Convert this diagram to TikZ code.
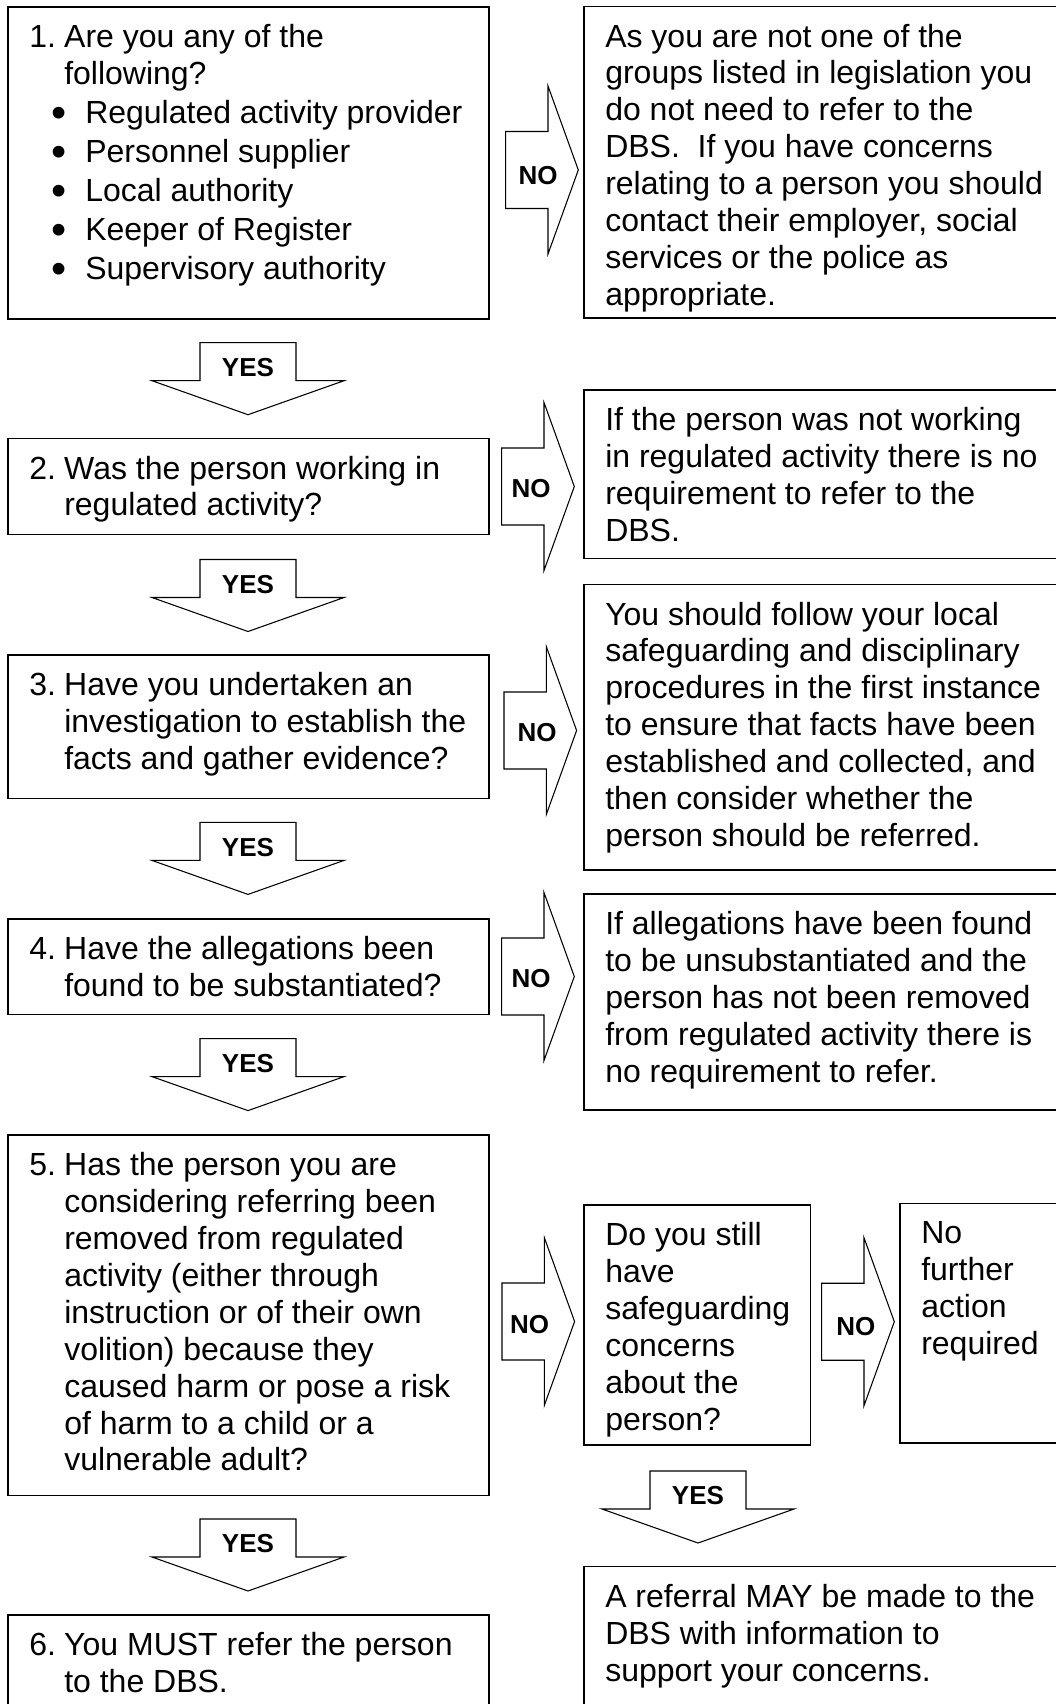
\documentclass[tikz,border=0pt]{standalone}
\usepackage{fontspec}
\setmainfont{Liberation Sans}
\usetikzlibrary{calc,fit}
\def\noarrow(#1,#2)(#3,#4)#5{\draw[blockarrow] (#1,#2-38.5) -- (#1+42.3,#2-38.5) -- (#1+42.3,#2-84) -- (#1+72.6,#2) -- (#1+42.3,#2+84) -- (#1+42.3,#2+38.5) -- (#1,#2+38.5) -- cycle;
	\node[arrowlabel] (#5) at (#3,#4) {NO};}
\def\yesarrow(#1,#2)#3{\draw[blockarrow] (#1-48,#2) -- (#1+48,#2) -- (#1+48,#2+38) -- (#1+96,#2+38) -- (#1,#2+72) -- (#1-96,#2+38) -- (#1-48,#2+38) -- cycle;
	\node[arrowlabel] (#3) at (#1,#2+25) {YES};}
\newcommand\flowtext[1]{\parbox[t]{420pt}{\raggedright #1}}
\newcommand\numline[1]{\makebox[26.25pt][l]{#1}}
\newcommand\indentline{\hspace*{26.25pt}}
\newcommand\bulletline[1]{\hspace*{17pt}\makebox[25pt][l]{\raisebox{-3pt}{\scalebox{1.35}{\textbullet}}}#1}
\tikzset{
	box/.style={draw, line width=1.1pt, inner sep=0pt, outer sep=0pt},
	txt/.style={inner sep=0pt, anchor=base west, font=\fontsize{24pt}{27.7pt}\selectfont},
	blockarrow/.style={draw, line width=0.8pt, fill=white, line join=miter},
	arrowlabel/.style={inner sep=0pt, font=\fontsize{19.5pt}{22pt}\selectfont\bfseries},
}
\begin{document}
\begin{tikzpicture}[x=0.75pt, y=-0.75pt]
			%%%%% FRAME %%%%%
			\useasboundingbox (0,0) rectangle (1056,1704);
			\clip (0,0) rectangle (1056,1704);
			\fill[white] (0,0) rectangle (1056,1704);
			
			%%%%% LEFT COLUMN %%%%%
			\node[box, fit={(8,7) (489,319)}] (q1) {};
			\node[txt] (q1text) at ($(q1.north west)+(21,40.5)$) {\flowtext{%
				\numline{1.}Are you any of the\\
				\indentline following?\\[1.9pt]
				\bulletline{Regulated activity provider}\\[1.5pt]
				\bulletline{Personnel supplier}\\[1.5pt]
				\bulletline{Local authority}\\[1.5pt]
				\bulletline{Keeper of Register}\\[1.5pt]
				\bulletline{Supervisory authority}}};
			
			\node[box, fit={(8,438.5) (489,534.5)}] (q2) {};
			\node[txt] (q2text) at ($(q2.north west)+(21,40.5)$) {\flowtext{%
				\numline{2.}Was the person working in\\
				\indentline regulated activity?}};
			
			\node[box, fit={(8,655) (489,798.5)}] (q3) {};
			\node[txt] (q3text) at ($(q3.north west)+(21,40.5)$) {\flowtext{%
				\numline{3.}Have you undertaken an\\
				\indentline investigation to establish the\\
				\indentline facts and gather evidence?}};
			
			\node[box, fit={(8,919) (489,1014.5)}] (q4) {};
			\node[txt] (q4text) at ($(q4.north west)+(21,40.5)$) {\flowtext{%
				\numline{4.}Have the allegations been\\
				\indentline found to be substantiated?}};
			
			\node[box, fit={(8,1135) (489,1495.5)}] (q5) {};
			\node[txt] (q5text) at ($(q5.north west)+(21,40.5)$) {\flowtext{%
				\numline{5.}Has the person you are\\
				\indentline considering referring been\\
				\indentline removed from regulated\\
				\indentline activity (either through\\
				\indentline instruction or of their own\\
				\indentline volition) because they\\
				\indentline caused harm or pose a risk\\
				\indentline of harm to a child or a\\
				\indentline vulnerable adult?}};
			
			\node[box, fit={(8,1615) (489,1720)}] (q6) {};
			\node[txt] (q6text) at ($(q6.north west)+(21,40.5)$) {\flowtext{%
				\numline{6.}You MUST refer the person\\
				\indentline to the DBS.}};
			
			%%%%% RIGHT COLUMN %%%%%
			\node[box, fit={(584,6.5) (1070,318)}] (r1) {};
			\node[txt] (r1text) at ($(r1.north west)+(21,40.5)$) {\flowtext{%
				As you are not one of the\\
				groups listed in legislation you\\
				do not need to refer to the\\
				DBS.~ If you have concerns\\
				relating to a person you should\\
				contact their employer, social\\
				services or the police as\\
				appropriate.}};
			
			\node[box, fit={(584,390) (1070,558.5)}] (r2) {};
			\node[txt] (r2text) at ($(r2.north west)+(21,40.5)$) {\flowtext{%
				If the person was not working\\
				in regulated activity there is no\\
				requirement to refer to the\\
				DBS.}};
			
			\node[box, fit={(584,584.5) (1070,870)}] (r3) {};
			\node[txt] (r3text) at ($(r3.north west)+(21,40.5)$) {\flowtext{%
				You should follow your local\\
				safeguarding and disciplinary\\
				procedures in the first instance\\
				to ensure that facts have been\\
				established and collected, and\\
				then consider whether the\\
				person should be referred.}};
			
			\node[box, fit={(584,894) (1070,1110)}] (r4) {};
			\node[txt] (r4text) at ($(r4.north west)+(21,40.5)$) {\flowtext{%
				If allegations have been found\\
				to be unsubstantiated and the\\
				person has not been removed\\
				from regulated activity there is\\
				no requirement to refer.}};
			
			\node[box, fit={(584,1205) (810.5,1445)}] (s5) {};
			\node[txt] (s5text) at ($(s5.north west)+(21,40.5)$) {\flowtext{%
				Do you still\\
				have\\
				safeguarding\\
				concerns\\
				about the\\
				person?}};
			
			\node[box, fit={(900,1203.3) (1070,1443)}] (n5) {};
			\node[txt] (n5text) at ($(n5.north west)+(21,40.5)$) {\flowtext{%
				No\\
				further\\
				action\\
				required}};
			
			\node[box, fit={(584,1566.7) (1070,1720)}] (r6) {};
			\node[txt] (r6text) at ($(r6.north west)+(21,40.5)$) {\flowtext{%
				A referral MAY be made to the\\
				DBS with information to\\
				support your concerns.}};
			
			%%%%% NO ARROWS %%%%%
			\noarrow(505.7,170)(538,176){no1}
			\noarrow(501.7,486.5)(531,488.7){no2}
			\noarrow(504,730.5)(537,732.7){no3}
			\noarrow(501.7,976.5)(531,978.7){no4}
			\noarrow(502,1321.5)(529.5,1325){no5}
			\noarrow(821.7,1321.7)(855.8,1327){no6}
			
			%%%%% YES ARROWS %%%%%
			\yesarrow(248,342.7){yes1}
			\yesarrow(248,559.5){yes2}
			\yesarrow(248,822.4){yes3}
			\yesarrow(248,1038.6){yes4}
			\yesarrow(248,1519){yes5}
			\yesarrow(698,1471){yes6}
\end{tikzpicture}
\end{document}
